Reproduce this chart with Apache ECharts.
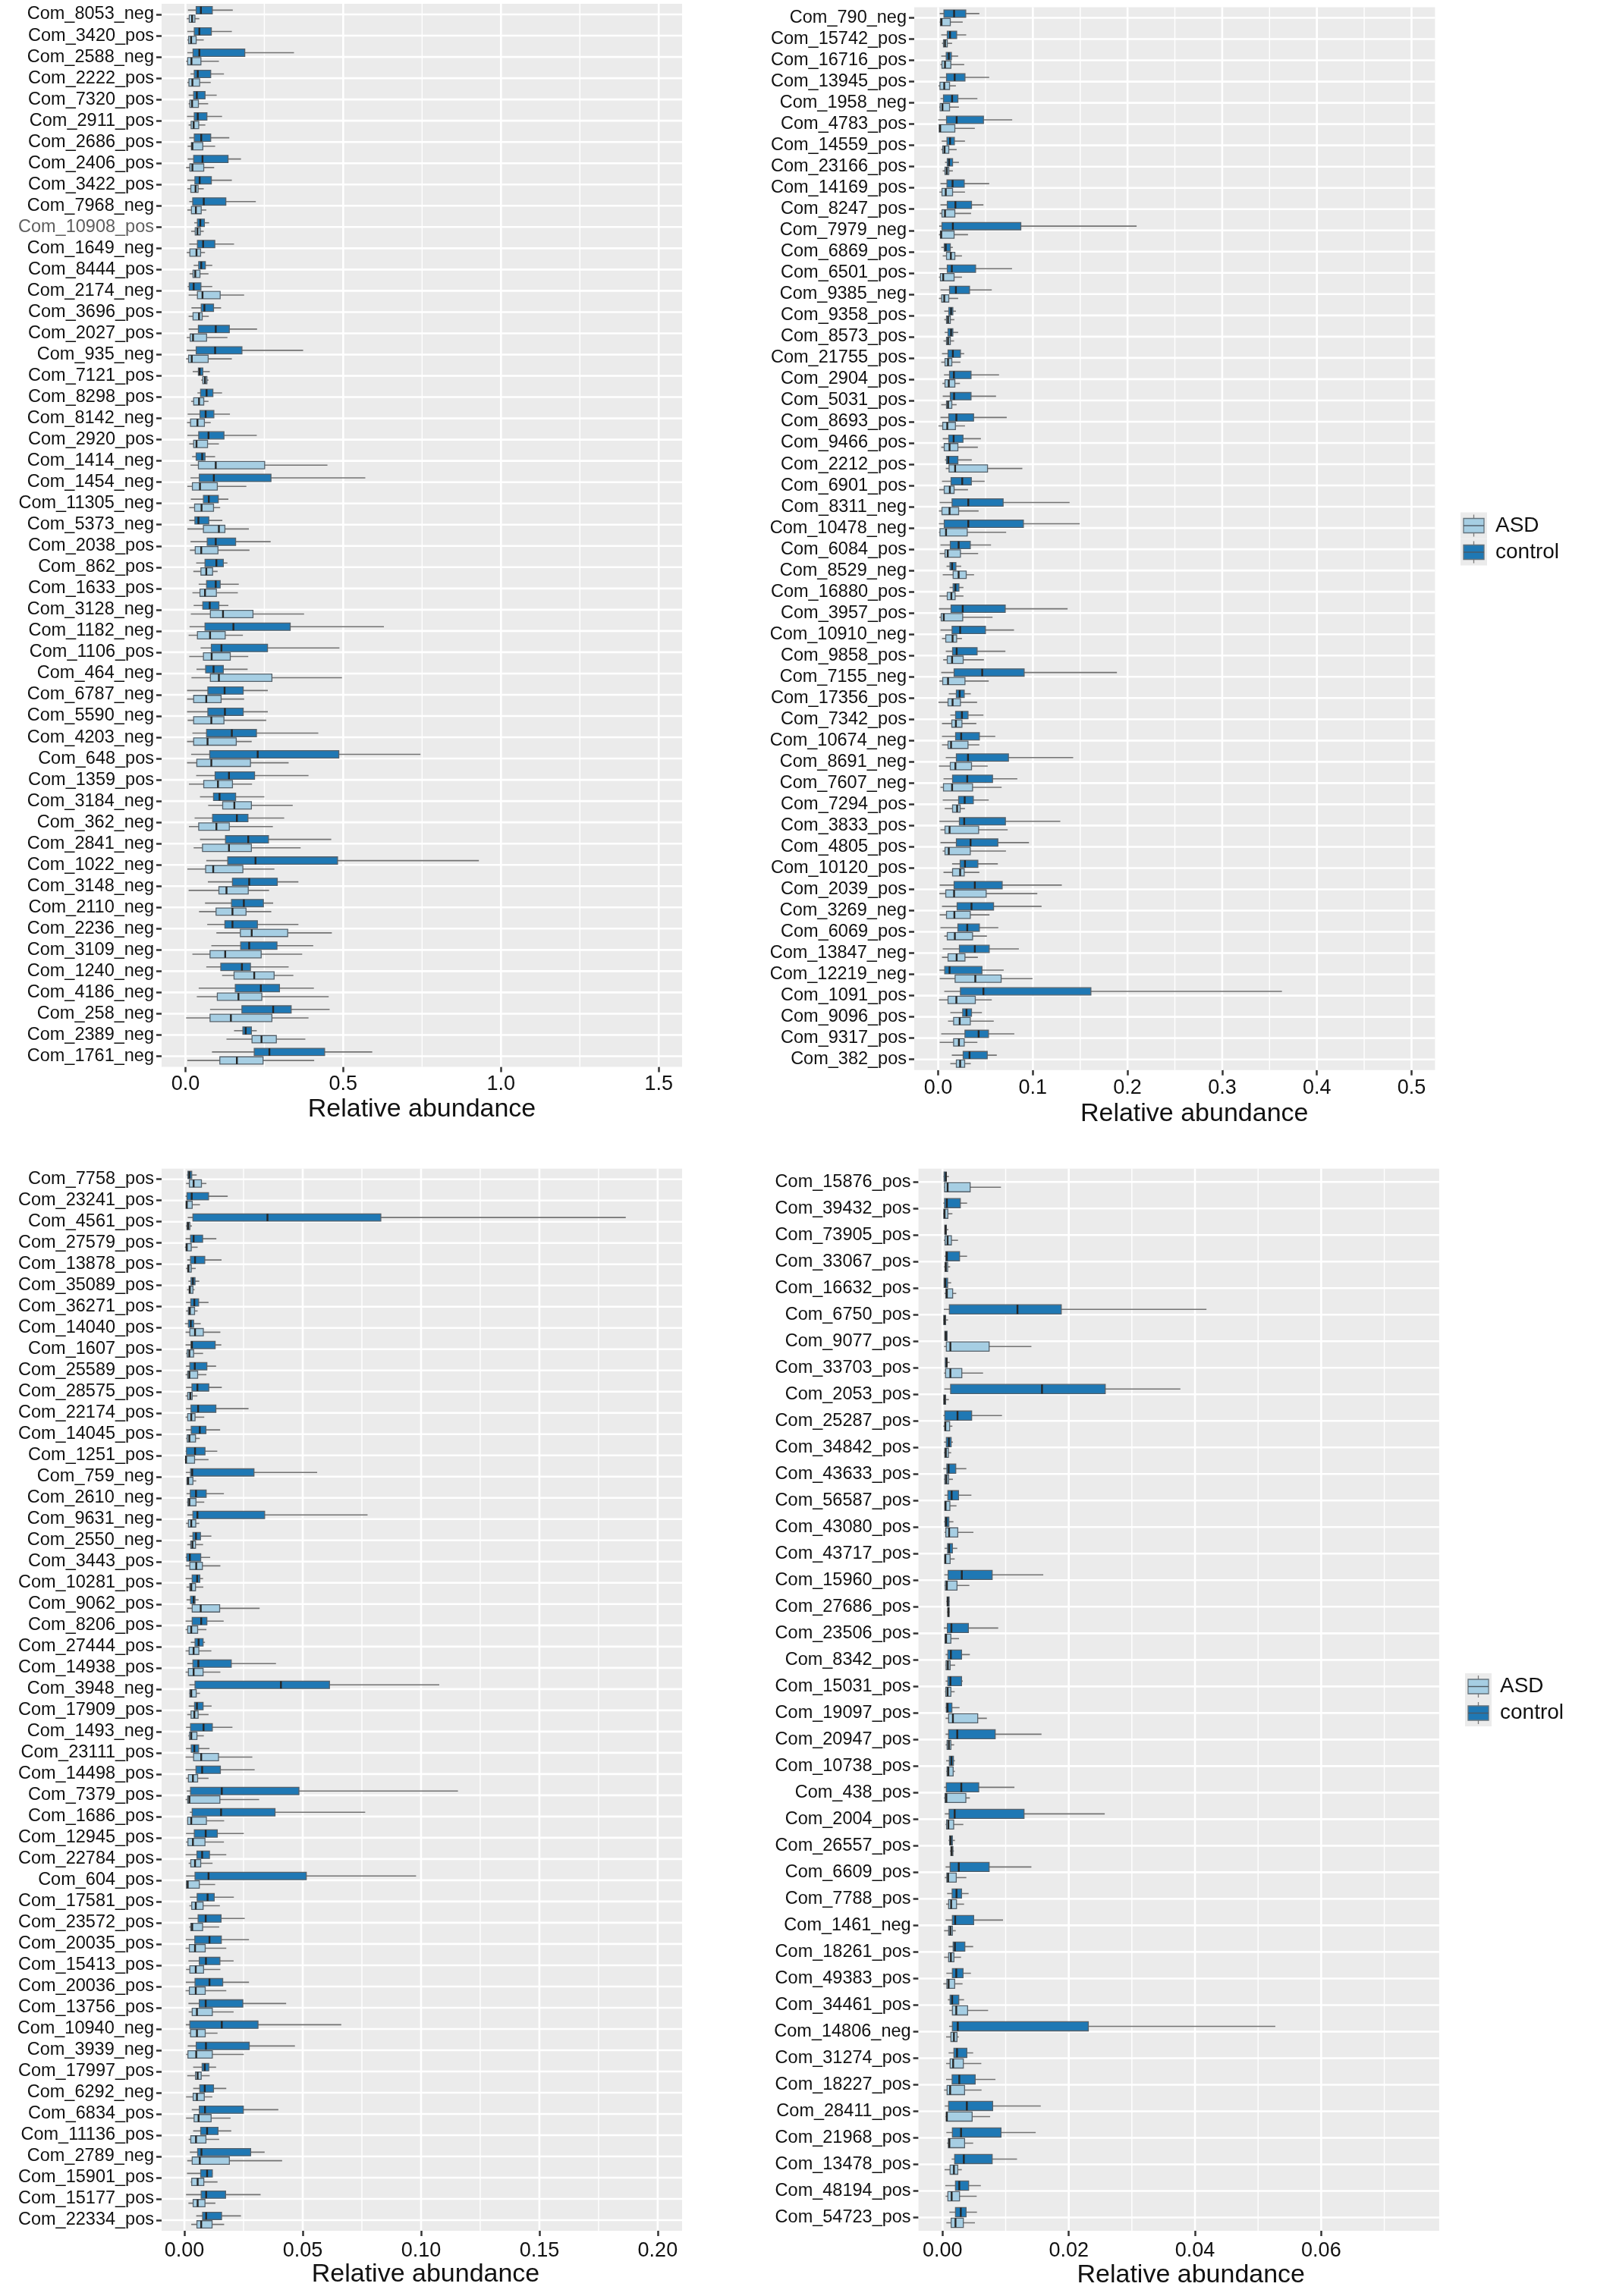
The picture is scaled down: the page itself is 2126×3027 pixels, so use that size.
<!DOCTYPE html>
<html>
<head>
<meta charset="utf-8">
<title>Relative abundance boxplots</title>
<script src="https://cdn.jsdelivr.net/npm/echarts@6/dist/echarts.min.js"></script>
<style>
  html, body { margin: 0; padding: 0; background: #fff; }
  #chart { width: 2126px; height: 3027px; }
</style>
</head>
<body>
<div id="chart"></div>
<script>
// each box: [whisker low, Q1, median, Q3, whisker high]
const p1Names = ['Com_8053_neg','Com_3420_pos','Com_2588_neg','Com_2222_pos','Com_7320_pos','Com_2911_pos','Com_2686_pos','Com_2406_pos','Com_3422_pos','Com_7968_neg','Com_10908_pos','Com_1649_neg','Com_8444_pos','Com_2174_neg','Com_3696_pos','Com_2027_pos','Com_935_neg','Com_7121_pos','Com_8298_pos','Com_8142_neg','Com_2920_pos','Com_1414_neg','Com_1454_neg','Com_11305_neg','Com_5373_neg','Com_2038_pos','Com_862_pos','Com_1633_pos','Com_3128_neg','Com_1182_neg','Com_1106_pos','Com_464_neg','Com_6787_neg','Com_5590_neg','Com_4203_neg','Com_648_pos','Com_1359_pos','Com_3184_neg','Com_362_neg','Com_2841_neg','Com_1022_neg','Com_3148_neg','Com_2110_neg','Com_2236_neg','Com_3109_neg','Com_1240_neg','Com_4186_neg','Com_258_neg','Com_2389_neg','Com_1761_neg'];
const p1Control = [
  [0.008,0.034,0.049,0.085,0.150],[0.006,0.028,0.044,0.082,0.147],[0.006,0.024,0.044,0.188,0.344],[0.016,0.028,0.039,0.080,0.122],
  [0.010,0.026,0.036,0.062,0.099],[0.005,0.028,0.039,0.068,0.116],[0.012,0.028,0.050,0.080,0.139],[0.007,0.026,0.054,0.135,0.176],
  [0.006,0.030,0.045,0.082,0.147],[0.012,0.023,0.058,0.128,0.223],[0.028,0.038,0.047,0.060,0.075],[0.012,0.038,0.056,0.093,0.154],
  [0.026,0.042,0.050,0.063,0.085],[0.007,0.012,0.026,0.049,0.085],[0.019,0.050,0.060,0.089,0.113],[0.010,0.041,0.096,0.139,0.227],
  [0.004,0.034,0.094,0.179,0.373],[0.023,0.041,0.045,0.055,0.077],[0.038,0.048,0.067,0.087,0.116],[0.007,0.046,0.064,0.090,0.141],
  [0.006,0.042,0.073,0.122,0.226],[0.021,0.034,0.053,0.062,0.094],[0.016,0.044,0.090,0.271,0.570],[0.017,0.057,0.074,0.104,0.136],
  [0.012,0.030,0.041,0.074,0.117],[0.016,0.069,0.096,0.159,0.270],[0.034,0.062,0.098,0.120,0.133],[0.042,0.067,0.096,0.110,0.169],
  [0.026,0.055,0.077,0.106,0.136],[0.013,0.062,0.152,0.332,0.629],[0.048,0.082,0.114,0.260,0.488],[0.035,0.064,0.089,0.120,0.197],
  [0.005,0.071,0.124,0.183,0.261],[0.005,0.071,0.125,0.183,0.261],[0.022,0.067,0.147,0.225,0.421],[0.018,0.077,0.229,0.486,0.745],
  [0.034,0.094,0.138,0.219,0.390],[0.046,0.089,0.108,0.159,0.250],[0.029,0.086,0.163,0.198,0.313],[0.046,0.127,0.199,0.263,0.462],
  [0.066,0.134,0.222,0.482,0.930],[0.071,0.149,0.202,0.291,0.358],[0.062,0.146,0.185,0.247,0.278],[0.069,0.125,0.149,0.228,0.358],
  [0.082,0.175,0.202,0.290,0.405],[0.066,0.112,0.179,0.206,0.327],[0.042,0.158,0.239,0.298,0.407],[0.078,0.179,0.278,0.335,0.457],
  [0.154,0.182,0.191,0.209,0.226],[0.084,0.218,0.266,0.441,0.592]
];
const p1Asd = [
  [0.004,0.012,0.021,0.030,0.044],[0.006,0.010,0.018,0.034,0.058],[0.002,0.007,0.019,0.049,0.106],[0.006,0.011,0.022,0.045,0.080],
  [0.010,0.014,0.021,0.041,0.072],[0.010,0.018,0.026,0.042,0.063],[0.007,0.019,0.022,0.055,0.094],[0.002,0.014,0.022,0.058,0.091],
  [0.006,0.017,0.032,0.040,0.058],[0.006,0.019,0.033,0.050,0.066],[0.018,0.031,0.038,0.047,0.058],[0.004,0.014,0.035,0.048,0.062],
  [0.013,0.024,0.031,0.046,0.073],[0.010,0.038,0.054,0.110,0.186],[0.010,0.024,0.043,0.053,0.074],[0.004,0.015,0.024,0.067,0.133],
  [0.002,0.010,0.020,0.072,0.147],[0.050,0.055,0.062,0.068,0.073],[0.018,0.026,0.043,0.058,0.073],[0.005,0.016,0.038,0.060,0.080],
  [0.012,0.026,0.035,0.070,0.106],[0.016,0.041,0.096,0.251,0.450],[0.006,0.022,0.046,0.101,0.193],[0.012,0.029,0.051,0.089,0.110],
  [0.006,0.057,0.106,0.125,0.201],[0.014,0.031,0.050,0.103,0.203],[0.025,0.049,0.066,0.086,0.102],[0.022,0.046,0.062,0.098,0.166],
  [0.017,0.079,0.119,0.214,0.376],[0.010,0.038,0.078,0.126,0.182],[0.012,0.057,0.083,0.142,0.199],[0.019,0.079,0.106,0.274,0.496],
  [0.005,0.026,0.066,0.113,0.186],[0.007,0.026,0.082,0.122,0.256],[0.005,0.026,0.070,0.161,0.210],[0.005,0.036,0.082,0.206,0.327],
  [0.011,0.058,0.103,0.149,0.211],[0.072,0.118,0.155,0.209,0.340],[0.011,0.042,0.098,0.139,0.277],[0.026,0.054,0.138,0.209,0.365],
  [0.006,0.064,0.088,0.182,0.282],[0.010,0.106,0.130,0.199,0.265],[0.043,0.097,0.149,0.192,0.272],[0.098,0.174,0.210,0.324,0.464],
  [0.022,0.078,0.126,0.240,0.370],[0.116,0.154,0.218,0.281,0.342],[0.036,0.101,0.168,0.242,0.454],[0.002,0.078,0.144,0.274,0.390],
  [0.130,0.211,0.241,0.288,0.380],[0.006,0.109,0.163,0.246,0.408]
];
const p1Ticks = [0, 0.5, 1.0, 1.5];
const p1Minor = [0.25, 0.75, 1.25];

const p2Names = ['Com_790_neg','Com_15742_pos','Com_16716_pos','Com_13945_pos','Com_1958_neg','Com_4783_pos','Com_14559_pos','Com_23166_pos','Com_14169_pos','Com_8247_pos','Com_7979_neg','Com_6869_pos','Com_6501_pos','Com_9385_neg','Com_9358_pos','Com_8573_pos','Com_21755_pos','Com_2904_pos','Com_5031_pos','Com_8693_pos','Com_9466_pos','Com_2212_pos','Com_6901_pos','Com_8311_neg','Com_10478_neg','Com_6084_pos','Com_8529_neg','Com_16880_pos','Com_3957_pos','Com_10910_neg','Com_9858_pos','Com_7155_neg','Com_17356_pos','Com_7342_pos','Com_10674_neg','Com_8691_neg','Com_7607_neg','Com_7294_pos','Com_3833_pos','Com_4805_pos','Com_10120_pos','Com_2039_pos','Com_3269_neg','Com_6069_pos','Com_13847_neg','Com_12219_neg','Com_1091_pos','Com_9096_pos','Com_9317_pos','Com_382_pos'];
const p2Control = [
  [0.0016,0.0061,0.0168,0.0291,0.0435],[0.0032,0.0096,0.0125,0.0195,0.0296],[0.0032,0.0085,0.0112,0.0139,0.0211],[0.0016,0.0088,0.0174,0.0283,0.0539],
  [0.0024,0.0056,0.0147,0.0208,0.0414],[0.0000,0.0088,0.0195,0.0478,0.0782],[0.0037,0.0093,0.0125,0.0171,0.0283],[0.0072,0.0096,0.0115,0.0152,0.0219],
  [0.0024,0.0093,0.0152,0.0275,0.0539],[0.0024,0.0096,0.0182,0.0352,0.0478],[0.0011,0.0040,0.0155,0.0873,0.2096],[0.0032,0.0064,0.0080,0.0128,0.0155],
  [0.0008,0.0096,0.0144,0.0395,0.0780],[0.0024,0.0120,0.0187,0.0331,0.0566],[0.0064,0.0112,0.0136,0.0155,0.0187],[0.0069,0.0104,0.0136,0.0155,0.0211],
  [0.0040,0.0104,0.0155,0.0235,0.0275],[0.0061,0.0120,0.0166,0.0347,0.0643],[0.0048,0.0128,0.0168,0.0347,0.0611],[0.0024,0.0112,0.0192,0.0374,0.0724],
  [0.0048,0.0112,0.0163,0.0262,0.0451],[0.0072,0.0088,0.0107,0.0208,0.0355],[0.0040,0.0136,0.0254,0.0350,0.0491],[0.0016,0.0147,0.0318,0.0686,0.1388],
  [0.0008,0.0064,0.0318,0.0900,0.1495],[0.0024,0.0128,0.0216,0.0339,0.0558],[0.0088,0.0125,0.0147,0.0187,0.0243],[0.0120,0.0158,0.0182,0.0219,0.0267],
  [0.0008,0.0136,0.0259,0.0708,0.1367],[0.0024,0.0147,0.0232,0.0499,0.0801],[0.0080,0.0152,0.0195,0.0411,0.0710],[0.0032,0.0168,0.0465,0.0908,0.1888],
  [0.0112,0.0192,0.0227,0.0275,0.0344],[0.0128,0.0184,0.0251,0.0315,0.0478],[0.0040,0.0184,0.0243,0.0435,0.0603],[0.0080,0.0192,0.0315,0.0742,0.1426],
  [0.0056,0.0152,0.0307,0.0574,0.0836],[0.0048,0.0216,0.0280,0.0371,0.0534],[0.0013,0.0224,0.0275,0.0710,0.1290],[0.0024,0.0192,0.0342,0.0630,0.0959],
  [0.0147,0.0232,0.0283,0.0419,0.0630],[0.0016,0.0168,0.0387,0.0676,0.1306],[0.0040,0.0200,0.0352,0.0585,0.1092],[0.0024,0.0208,0.0307,0.0435,0.0635],
  [0.0048,0.0224,0.0387,0.0539,0.0852],[0.0013,0.0069,0.0120,0.0462,0.0692],[0.0064,0.0235,0.0478,0.1613,0.3631],[0.0128,0.0259,0.0299,0.0352,0.0462],
  [0.0032,0.0283,0.0427,0.0531,0.0804],[0.0144,0.0264,0.0331,0.0518,0.0619]
];
const p2Asd = [
  [0.0016,0.0024,0.0035,0.0128,0.0259],[0.0040,0.0056,0.0072,0.0096,0.0147],[0.0024,0.0040,0.0072,0.0134,0.0275],[0.0003,0.0019,0.0064,0.0120,0.0187],
  [0.0013,0.0021,0.0045,0.0120,0.0219],[0.0008,0.0011,0.0021,0.0176,0.0387],[0.0032,0.0048,0.0067,0.0112,0.0195],[0.0048,0.0072,0.0091,0.0112,0.0155],
  [0.0013,0.0040,0.0080,0.0152,0.0283],[0.0016,0.0040,0.0072,0.0176,0.0347],[0.0008,0.0024,0.0032,0.0168,0.0315],[0.0048,0.0088,0.0134,0.0176,0.0251],
  [0.0008,0.0024,0.0053,0.0168,0.0251],[0.0008,0.0037,0.0064,0.0112,0.0211],[0.0064,0.0088,0.0104,0.0128,0.0171],[0.0056,0.0088,0.0104,0.0128,0.0168],
  [0.0032,0.0072,0.0104,0.0144,0.0235],[0.0045,0.0072,0.0112,0.0176,0.0230],[0.0032,0.0088,0.0104,0.0144,0.0195],[0.0003,0.0048,0.0096,0.0182,0.0283],
  [0.0032,0.0064,0.0120,0.0208,0.0419],[0.0080,0.0115,0.0179,0.0521,0.0889],[0.0011,0.0064,0.0123,0.0168,0.0315],[0.0008,0.0040,0.0120,0.0216,0.0427],
  [0.0008,0.0019,0.0083,0.0307,0.0718],[0.0016,0.0072,0.0101,0.0235,0.0422],[0.0048,0.0158,0.0216,0.0296,0.0379],[0.0013,0.0096,0.0139,0.0179,0.0267],
  [0.0013,0.0032,0.0059,0.0259,0.0574],[0.0040,0.0080,0.0152,0.0195,0.0251],[0.0053,0.0096,0.0147,0.0264,0.0483],[0.0013,0.0048,0.0104,0.0283,0.0534],
  [0.0003,0.0104,0.0152,0.0235,0.0411],[0.0040,0.0144,0.0187,0.0251,0.0403],[0.0040,0.0104,0.0136,0.0315,0.0435],[0.0008,0.0128,0.0182,0.0352,0.0523],
  [0.0024,0.0056,0.0147,0.0363,0.0670],[0.0069,0.0152,0.0200,0.0232,0.0283],[0.0024,0.0072,0.0120,0.0427,0.0734],[0.0048,0.0072,0.0112,0.0339,0.0716],
  [0.0056,0.0152,0.0232,0.0275,0.0435],[0.0013,0.0080,0.0168,0.0507,0.1047],[0.0016,0.0088,0.0171,0.0339,0.0542],[0.0064,0.0096,0.0176,0.0363,0.0515],
  [0.0040,0.0104,0.0195,0.0283,0.0419],[0.0016,0.0179,0.0392,0.0665,0.0996],[0.0008,0.0104,0.0192,0.0392,0.0566],[0.0104,0.0163,0.0227,0.0339,0.0587],
  [0.0016,0.0163,0.0219,0.0275,0.0414],[0.0128,0.0192,0.0232,0.0280,0.0344]
];
const p2Ticks = [0, 0.1, 0.2, 0.3, 0.4, 0.5];
const p2Minor = [0.05, 0.15, 0.25, 0.35, 0.45];

const p3Names = ['Com_7758_pos','Com_23241_pos','Com_4561_pos','Com_27579_pos','Com_13878_pos','Com_35089_pos','Com_36271_pos','Com_14040_pos','Com_1607_pos','Com_25589_pos','Com_28575_pos','Com_22174_pos','Com_14045_pos','Com_1251_pos','Com_759_neg','Com_2610_neg','Com_9631_neg','Com_2550_neg','Com_3443_pos','Com_10281_pos','Com_9062_pos','Com_8206_pos','Com_27444_pos','Com_14938_pos','Com_3948_neg','Com_17909_pos','Com_1493_neg','Com_23111_pos','Com_14498_pos','Com_7379_pos','Com_1686_pos','Com_12945_pos','Com_22784_pos','Com_604_pos','Com_17581_pos','Com_23572_pos','Com_20035_pos','Com_15413_pos','Com_20036_pos','Com_13756_pos','Com_10940_neg','Com_3939_neg','Com_17997_pos','Com_6292_neg','Com_6834_pos','Com_11136_pos','Com_2789_neg','Com_15901_pos','Com_15177_pos','Com_22334_pos'];
const p3Control = [
  [0.0011,0.0015,0.0021,0.0031,0.0052],[0.0005,0.0011,0.0031,0.0102,0.0183],[0.0014,0.0036,0.0351,0.0830,0.1865],[0.0005,0.0026,0.0039,0.0077,0.0135],
  [0.0012,0.0026,0.0045,0.0086,0.0157],[0.0017,0.0028,0.0036,0.0045,0.0063],[0.0007,0.0027,0.0042,0.0060,0.0102],[0.0002,0.0017,0.0027,0.0039,0.0069],
  [0.0005,0.0028,0.0032,0.0130,0.0156],[0.0007,0.0023,0.0044,0.0095,0.0134],[0.0007,0.0032,0.0055,0.0103,0.0158],[0.0007,0.0028,0.0058,0.0133,0.0271],
  [0.0007,0.0029,0.0065,0.0091,0.0151],[0.0005,0.0009,0.0045,0.0087,0.0139],[0.0006,0.0026,0.0033,0.0294,0.0561],[0.0009,0.0025,0.0049,0.0092,0.0167],
  [0.0012,0.0036,0.0055,0.0339,0.0774],[0.0021,0.0036,0.0049,0.0068,0.0114],[0.0005,0.0010,0.0023,0.0069,0.0109],[0.0005,0.0033,0.0054,0.0065,0.0079],
  [0.0009,0.0026,0.0039,0.0045,0.0060],[0.0005,0.0033,0.0071,0.0095,0.0166],[0.0027,0.0045,0.0060,0.0079,0.0087],[0.0012,0.0036,0.0059,0.0198,0.0387],
  [0.0021,0.0045,0.0408,0.0613,0.1077],[0.0018,0.0043,0.0053,0.0079,0.0115],[0.0007,0.0026,0.0081,0.0118,0.0203],[0.0007,0.0029,0.0042,0.0060,0.0106],
  [0.0005,0.0049,0.0075,0.0152,0.0297],[0.0010,0.0026,0.0158,0.0484,0.1156],[0.0023,0.0033,0.0155,0.0383,0.0764],[0.0007,0.0042,0.0090,0.0139,0.0251],
  [0.0005,0.0053,0.0075,0.0106,0.0177],[0.0007,0.0045,0.0102,0.0515,0.0979],[0.0023,0.0054,0.0098,0.0126,0.0209],[0.0017,0.0058,0.0090,0.0155,0.0255],
  [0.0006,0.0044,0.0106,0.0156,0.0273],[0.0017,0.0063,0.0091,0.0150,0.0208],[0.0006,0.0045,0.0106,0.0162,0.0273],[0.0017,0.0063,0.0090,0.0247,0.0430],
  [0.0006,0.0023,0.0158,0.0311,0.0663],[0.0014,0.0050,0.0091,0.0274,0.0467],[0.0037,0.0075,0.0086,0.0103,0.0134],[0.0037,0.0065,0.0086,0.0123,0.0177],
  [0.0031,0.0063,0.0087,0.0249,0.0397],[0.0037,0.0069,0.0096,0.0142,0.0198],[0.0023,0.0056,0.0072,0.0280,0.0339],[0.0011,0.0069,0.0096,0.0118,0.0119],
  [0.0007,0.0071,0.0092,0.0174,0.0322],[0.0050,0.0077,0.0092,0.0157,0.0239]
];
const p3Asd = [
  [0.0007,0.0021,0.0039,0.0072,0.0093],[0.0006,0.0007,0.0010,0.0033,0.0066],[0.0007,0.0011,0.0016,0.0023,0.0032],[0.0002,0.0007,0.0010,0.0029,0.0056],
  [0.0007,0.0014,0.0017,0.0029,0.0048],[0.0011,0.0020,0.0023,0.0036,0.0043],[0.0007,0.0017,0.0023,0.0043,0.0056],[0.0005,0.0023,0.0045,0.0080,0.0152],
  [0.0007,0.0012,0.0021,0.0039,0.0079],[0.0005,0.0014,0.0021,0.0056,0.0093],[0.0005,0.0014,0.0025,0.0033,0.0055],[0.0005,0.0014,0.0029,0.0045,0.0084],
  [0.0007,0.0012,0.0021,0.0047,0.0065],[0.0002,0.0005,0.0007,0.0043,0.0102],[0.0009,0.0011,0.0016,0.0036,0.0050],[0.0011,0.0015,0.0021,0.0049,0.0084],
  [0.0007,0.0017,0.0029,0.0048,0.0063],[0.0012,0.0027,0.0034,0.0047,0.0079],[0.0005,0.0023,0.0050,0.0076,0.0152],[0.0009,0.0023,0.0029,0.0047,0.0080],
  [0.0012,0.0033,0.0069,0.0149,0.0318],[0.0005,0.0014,0.0029,0.0056,0.0093],[0.0005,0.0020,0.0039,0.0061,0.0114],[0.0005,0.0017,0.0039,0.0079,0.0152],
  [0.0021,0.0023,0.0029,0.0050,0.0066],[0.0012,0.0028,0.0042,0.0058,0.0102],[0.0017,0.0022,0.0029,0.0053,0.0082],[0.0005,0.0039,0.0071,0.0144,0.0287],
  [0.0007,0.0017,0.0036,0.0056,0.0102],[0.0005,0.0014,0.0021,0.0150,0.0316],[0.0012,0.0014,0.0029,0.0093,0.0168],[0.0007,0.0015,0.0036,0.0087,0.0167],
  [0.0018,0.0027,0.0045,0.0069,0.0119],[0.0007,0.0009,0.0014,0.0063,0.0130],[0.0021,0.0031,0.0048,0.0079,0.0150],[0.0021,0.0027,0.0033,0.0077,0.0147],
  [0.0005,0.0021,0.0045,0.0088,0.0177],[0.0007,0.0023,0.0048,0.0081,0.0152],[0.0005,0.0021,0.0048,0.0088,0.0177],[0.0018,0.0033,0.0053,0.0118,0.0208],
  [0.0018,0.0026,0.0053,0.0088,0.0140],[0.0007,0.0015,0.0050,0.0118,0.0251],[0.0012,0.0047,0.0056,0.0071,0.0107],[0.0007,0.0037,0.0053,0.0084,0.0118],
  [0.0007,0.0041,0.0060,0.0113,0.0195],[0.0018,0.0027,0.0049,0.0091,0.0147],[0.0012,0.0033,0.0065,0.0190,0.0413],[0.0027,0.0031,0.0056,0.0082,0.0140],
  [0.0017,0.0037,0.0056,0.0087,0.0131],[0.0029,0.0053,0.0071,0.0117,0.0168]
];
const p3Ticks = [0, 0.05, 0.10, 0.15, 0.20];
const p3Minor = [0.025, 0.075, 0.125, 0.175];

const p4Names = ['Com_15876_pos','Com_39432_pos','Com_73905_pos','Com_33067_pos','Com_16632_pos','Com_6750_pos','Com_9077_pos','Com_33703_pos','Com_2053_pos','Com_25287_pos','Com_34842_pos','Com_43633_pos','Com_56587_pos','Com_43080_pos','Com_43717_pos','Com_15960_pos','Com_27686_pos','Com_23506_pos','Com_8342_pos','Com_15031_pos','Com_19097_pos','Com_20947_pos','Com_10738_pos','Com_438_pos','Com_2004_pos','Com_26557_pos','Com_6609_pos','Com_7788_pos','Com_1461_neg','Com_18261_pos','Com_49383_pos','Com_34461_pos','Com_14806_neg','Com_31274_pos','Com_18227_pos','Com_28411_pos','Com_21968_pos','Com_13478_pos','Com_48194_pos','Com_54723_pos'];
const p4Control = [
  [0.00016,0.00024,0.00052,0.00060,0.00100],[0.00012,0.00032,0.00068,0.00281,0.00389],[0.00032,0.00036,0.00048,0.00060,0.00092],[0.00032,0.00052,0.00068,0.00269,0.00389],
  [0.00020,0.00024,0.00044,0.00080,0.00136],[0.00020,0.00108,0.01187,0.01881,0.04182],[0.00032,0.00036,0.00052,0.00072,0.00080],[0.00040,0.00044,0.00064,0.00072,0.00112],
  [0.00028,0.00128,0.01576,0.02578,0.03769],[0.00012,0.00036,0.00237,0.00461,0.00942],[0.00024,0.00060,0.00100,0.00136,0.00164],[0.00012,0.00068,0.00096,0.00209,0.00377],
  [0.00032,0.00084,0.00144,0.00253,0.00457],[0.00024,0.00040,0.00060,0.00100,0.00172],[0.00032,0.00080,0.00104,0.00156,0.00233],[0.00028,0.00088,0.00305,0.00786,0.01596],
  [0.00060,0.00072,0.00084,0.00104,0.00112],[0.00020,0.00076,0.00140,0.00409,0.00882],[0.00048,0.00084,0.00132,0.00301,0.00433],[0.00048,0.00084,0.00124,0.00301,0.00321],
  [0.00048,0.00060,0.00080,0.00148,0.00269],[0.00048,0.00096,0.00233,0.00834,0.01568],[0.00056,0.00108,0.00140,0.00172,0.00196],[0.00024,0.00060,0.00297,0.00573,0.01139],
  [0.00036,0.00104,0.00192,0.01291,0.02570],[0.00096,0.00112,0.00128,0.00156,0.00196],[0.00048,0.00120,0.00257,0.00738,0.01408],[0.00072,0.00152,0.00221,0.00301,0.00413],
  [0.00048,0.00156,0.00200,0.00493,0.00958],[0.00096,0.00168,0.00196,0.00353,0.00485],[0.00060,0.00156,0.00217,0.00325,0.00449],[0.00084,0.00120,0.00152,0.00257,0.00341],
  [0.00104,0.00156,0.00241,0.02310,0.05273],[0.00096,0.00180,0.00229,0.00385,0.00485],[0.00056,0.00152,0.00265,0.00517,0.00838],[0.00036,0.00096,0.00385,0.00794,0.01556],
  [0.00060,0.00156,0.00293,0.00926,0.01476],[0.00144,0.00192,0.00337,0.00786,0.01180],[0.00044,0.00205,0.00265,0.00413,0.00606],[0.00108,0.00205,0.00289,0.00373,0.00545]
];
const p4Asd = [
  [0.00024,0.00032,0.00080,0.00437,0.00926],[0.00012,0.00020,0.00032,0.00084,0.00156],[0.00020,0.00040,0.00080,0.00140,0.00245],[0.00024,0.00040,0.00052,0.00080,0.00120],
  [0.00032,0.00052,0.00068,0.00160,0.00217],[0.00012,0.00020,0.00032,0.00048,0.00088],[0.00024,0.00060,0.00124,0.00738,0.01408],[0.00024,0.00048,0.00124,0.00305,0.00642],
  [0.00012,0.00020,0.00032,0.00048,0.00100],[0.00012,0.00036,0.00044,0.00112,0.00156],[0.00024,0.00036,0.00052,0.00092,0.00136],[0.00024,0.00036,0.00060,0.00096,0.00164],
  [0.00032,0.00036,0.00048,0.00116,0.00221],[0.00032,0.00052,0.00104,0.00241,0.00489],[0.00032,0.00036,0.00044,0.00120,0.00192],[0.00032,0.00044,0.00068,0.00229,0.00425],
  [0.00072,0.00084,0.00092,0.00104,0.00112],[0.00032,0.00040,0.00056,0.00132,0.00261],[0.00048,0.00056,0.00084,0.00120,0.00200],[0.00040,0.00052,0.00080,0.00132,0.00192],
  [0.00048,0.00096,0.00164,0.00557,0.00702],[0.00048,0.00072,0.00100,0.00132,0.00184],[0.00060,0.00072,0.00092,0.00168,0.00196],[0.00024,0.00040,0.00060,0.00369,0.00433],
  [0.00048,0.00064,0.00092,0.00176,0.00329],[0.00116,0.00132,0.00144,0.00164,0.00180],[0.00036,0.00068,0.00088,0.00217,0.00377],[0.00056,0.00096,0.00136,0.00221,0.00341],
  [0.00024,0.00096,0.00124,0.00156,0.00209],[0.00024,0.00096,0.00132,0.00180,0.00293],[0.00012,0.00068,0.00096,0.00192,0.00317],[0.00104,0.00156,0.00217,0.00397,0.00722],
  [0.00056,0.00132,0.00180,0.00229,0.00257],[0.00056,0.00120,0.00168,0.00329,0.00614],[0.00024,0.00072,0.00120,0.00349,0.00618],[0.00048,0.00060,0.00068,0.00469,0.00754],
  [0.00072,0.00092,0.00108,0.00349,0.00485],[0.00032,0.00120,0.00180,0.00241,0.00305],[0.00048,0.00084,0.00144,0.00269,0.00541],[0.00060,0.00136,0.00205,0.00329,0.00513]
];
const p4Ticks = [0, 0.02, 0.04, 0.06];
const p4Minor = [0.01, 0.03, 0.05, 0.07];

const groupNames = ['ASD', 'control'];
const greyLabels = ['Com_10908_pos'];

const FONT = '"Liberation Sans", Arial, Helvetica, sans-serif';
const ASD_COLOR = '#A6CEE3';
const CONTROL_COLOR = '#1F78B4';

// panel layout (ggplot-like plot areas)
const panels = [
  { names: p1Names, control: p1Control, asd: p1Asd, ticks: p1Ticks, minor: p1Minor, digits: 1,
    min: -0.0756, max: 1.574, grid: { left: 213, top: 5, width: 686, height: 1401.5 }, labelGap: 10, nameGap: 39, namePad: 0 },
  { names: p2Names, control: p2Control, asd: p2Asd, ticks: p2Ticks, minor: p2Minor, digits: 1,
    min: -0.0253, max: 0.5248, grid: { left: 1205, top: 9.5, width: 686.4, height: 1401.2 }, labelGap: 10, nameGap: 41, namePad: 52 },
  { names: p3Names, control: p3Control, asd: p3Asd, ticks: p3Ticks, minor: p3Minor, digits: 2,
    min: -0.00963, max: 0.2103, grid: { left: 213, top: 1540.7, width: 686, height: 1400.3 }, labelGap: 13, nameGap: 41, namePad: 10 },
  { names: p4Names, control: p4Control, asd: p4Asd, ticks: p4Ticks, minor: p4Minor, digits: 2,
    min: -0.003815, max: 0.0787, grid: { left: 1210.6, top: 1540.7, width: 686.3, height: 1400.3 }, labelGap: 13, nameGap: 42, namePad: 32 }
];

// draw one dodged box: shift < 0 puts it above the category line
function boxRenderer(shift, fill) {
  return function (params, api) {
    const cat = api.value(0);
    const band = api.size([0, 1])[1];
    const y = api.coord([0, cat])[1] + shift * band;
    const h = 0.345 * band;
    const px = [1, 2, 3, 4, 5].map(function (k) { return api.coord([api.value(k), cat])[0]; });
    return {
      type: 'group',
      children: [
        { type: 'line', shape: { x1: px[0], y1: y, x2: px[4], y2: y },
          style: { stroke: '#737373', lineWidth: 1.6 } },
        { type: 'rect', shape: { x: px[1], y: y - h / 2, width: Math.max(px[3] - px[1], 1), height: h },
          style: { fill: fill, stroke: '#56616a', lineWidth: 1.3 } },
        { type: 'line', shape: { x1: px[2], y1: y - h / 2, x2: px[2], y2: y + h / 2 },
          style: { stroke: '#262626', lineWidth: 2.4 } }
      ]
    };
  };
}

function hLine(params, api) {
  const y = api.coord([0, api.value(1)])[1];
  const cs = params.coordSys;
  return { type: 'line', shape: { x1: cs.x, y1: y, x2: cs.x + cs.width, y2: y },
    style: { stroke: '#ffffff', lineWidth: 2.6 } };
}

function vLine(width) {
  return function (params, api) {
    const x = api.coord([api.value(0), 0])[0];
    const cs = params.coordSys;
    return { type: 'line', shape: { x1: x, y1: cs.y, x2: x, y2: cs.y + cs.height },
      style: { stroke: '#ffffff', lineWidth: width } };
  };
}

const grids = [], xAxes = [], yAxes = [], series = [];
panels.forEach(function (p, i) {
  grids.push(Object.assign({ show: true, backgroundColor: '#EBEBEB', borderWidth: 0,
    containLabel: false, outerBoundsMode: 'none' }, p.grid));
  xAxes.push({
    gridIndex: i, type: 'value', min: p.min, max: p.max,
    axisLine: { show: false, onZero: false },
    splitLine: { show: false },
    axisTick: { show: true, length: 7, customValues: p.ticks, lineStyle: { color: '#333333', width: 2.5 } },
    axisLabel: { customValues: p.ticks, margin: p.labelGap, fontSize: 27, color: '#111111', fontFamily: FONT,
      formatter: function (v) { return Number(v).toFixed(p.digits); } },
    name: 'Relative abundance', nameLocation: 'middle', nameGap: p.nameGap,
    nameTextStyle: { fontSize: 34, color: '#111111', fontFamily: FONT, padding: [0, 0, 0, p.namePad] }
  });
  yAxes.push({
    gridIndex: i, type: 'category', data: p.names, inverse: true,
    // keep the axis at the plot edge, not at x = 0
    axisLine: { show: false, onZero: false },
    splitLine: { show: false },
    axisTick: { show: true, alignWithLabel: true, interval: 0, length: 7, lineStyle: { color: '#333333', width: 2.5 } },
    axisLabel: { interval: 0, margin: 10, fontSize: 23.5, fontFamily: FONT,
      color: function (v) { return greyLabels.indexOf(v) >= 0 ? '#5e5e5e' : '#111111'; } }
  });
  series.push({
    type: 'custom', xAxisIndex: i, yAxisIndex: i, silent: true, z: 1,
    encode: { x: 0, y: 1 }, renderItem: hLine,
    data: p.names.map(function (n, k) { return [0, k]; })
  });
  series.push({
    type: 'custom', xAxisIndex: i, yAxisIndex: i, silent: true, z: 1,
    encode: { x: 0, y: 1 }, renderItem: vLine(1.4),
    data: p.minor.map(function (v) { return [v, 0]; })
  });
  series.push({
    type: 'custom', xAxisIndex: i, yAxisIndex: i, silent: true, z: 1,
    encode: { x: 0, y: 1 }, renderItem: vLine(2.6),
    data: p.ticks.map(function (v) { return [v, 0]; })
  });
  series.push({
    name: groupNames[1], type: 'custom', xAxisIndex: i, yAxisIndex: i, z: 2,
    encode: { y: 0, x: [1, 2, 3, 4, 5] }, renderItem: boxRenderer(-0.2, CONTROL_COLOR),
    data: p.control.map(function (d, k) { return [k].concat(d); })
  });
  series.push({
    name: groupNames[0], type: 'custom', xAxisIndex: i, yAxisIndex: i, z: 2,
    encode: { y: 0, x: [1, 2, 3, 4, 5] }, renderItem: boxRenderer(0.2, ASD_COLOR),
    data: p.asd.map(function (d, k) { return [k].concat(d); })
  });
});

// ggplot-style legend with boxplot keys
function legendBlock(x, y) {
  const fills = [ASD_COLOR, CONTROL_COLOR];
  const children = [];
  groupNames.forEach(function (g, k) {
    const top = k * 35;
    children.push(
      { type: 'rect', shape: { x: 0, y: top, width: 35, height: 35 }, style: { fill: '#EBEBEB' } },
      { type: 'line', shape: { x1: 17.5, y1: top + 3, x2: 17.5, y2: top + 32 }, style: { stroke: '#7a7a7a', lineWidth: 1.3 } },
      { type: 'rect', shape: { x: 4, y: top + 8, width: 27, height: 19 }, style: { fill: fills[k], stroke: '#66737c', lineWidth: 1.3 } },
      { type: 'line', shape: { x1: 4, y1: top + 17.5, x2: 31, y2: top + 17.5 }, style: { stroke: '#4d5a63', lineWidth: 1.4 } },
      { type: 'text', style: { text: g, x: 46, y: top + 17.5, fill: '#111111', fontSize: 28, fontFamily: FONT, verticalAlign: 'middle' } }
    );
  });
  return { type: 'group', x: x, y: y, children: children };
}

const chart = echarts.init(document.getElementById('chart'));
chart.setOption({
  animation: false,
  backgroundColor: '#ffffff',
  textStyle: { fontFamily: FONT },
  grid: grids,
  xAxis: xAxes,
  yAxis: yAxes,
  series: series,
  graphic: [legendBlock(1925, 675.5), legendBlock(1931, 2206)]
});
window.addEventListener('resize', function () { chart.resize(); });
</script>
</body>
</html>
